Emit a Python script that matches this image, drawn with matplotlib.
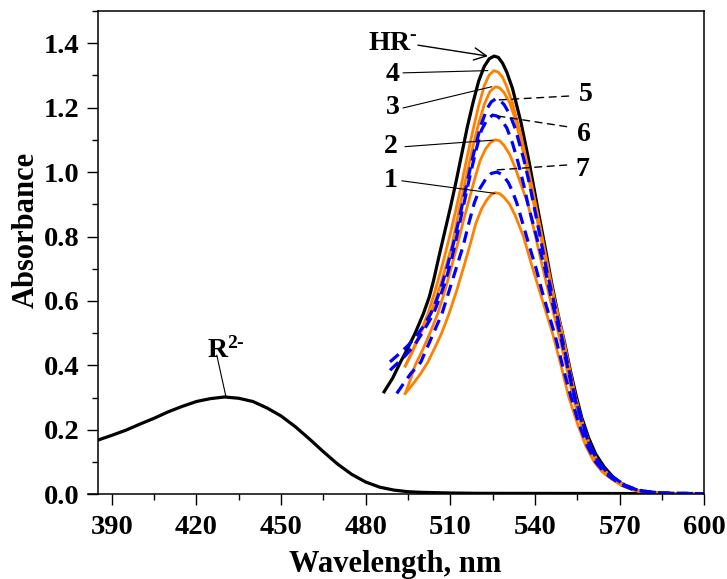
import matplotlib
matplotlib.use('Agg')
import matplotlib.pyplot as plt
from matplotlib.ticker import MultipleLocator

plt.rcParams['font.family'] = 'Liberation Serif'
plt.rcParams['font.weight'] = 'bold'
plt.rcParams['mathtext.fontset'] = 'custom'
plt.rcParams['mathtext.rm'] = 'Liberation Serif:bold'
plt.rcParams['mathtext.bf'] = 'Liberation Serif:bold'
plt.rcParams['mathtext.it'] = 'Liberation Serif:bold'

# R2- spectrum
r2_wl = [385, 390, 395, 400, 405, 410, 415, 420, 425, 430, 435, 440, 445, 450,
         455, 460, 465, 470, 475, 480, 485, 490, 495, 500, 510, 520, 600]
r2_abs = [0.168, 0.183, 0.199, 0.218, 0.236, 0.256, 0.273, 0.288, 0.297, 0.302,
          0.298, 0.288, 0.268, 0.243, 0.21, 0.172, 0.132, 0.094, 0.062, 0.038,
          0.022, 0.013, 0.008, 0.006, 0.004, 0.003, 0.002]

# HR- spectrum
hr_wl = [486.5, 489.5, 492.3, 495, 497.5, 500.4, 502.5, 504, 506, 508, 510, 512,
         514, 516, 518, 520, 522, 523.8, 525.5, 527, 528.5, 530, 532, 535, 538,
         541, 543.5, 545.8, 548, 550.5, 552.5, 554.6, 556.5, 559, 561.5, 564.5,
         568, 572, 576.3, 580, 585, 590, 600]
hr_abs = [0.318, 0.36, 0.41, 0.455, 0.5, 0.56, 0.612, 0.662, 0.74, 0.815, 0.89,
          0.97, 1.055, 1.14, 1.215, 1.282, 1.328, 1.352, 1.36, 1.356, 1.338, 1.31,
          1.26, 1.155, 1.027, 0.885, 0.77, 0.66, 0.565, 0.47, 0.385, 0.305, 0.24,
          0.175, 0.125, 0.085, 0.05, 0.025, 0.012, 0.006, 0.003, 0.002, 0.001]

# orange solid curves 1-4
wl_1 = [494, 496.9, 499.5, 502, 504.5, 506.9, 509.5, 512.3, 514.7, 517, 519, 521,
        523, 524.7, 526, 527.5, 529, 531, 533, 535.9, 539.2, 542.7, 546.2, 549.2,
        552, 555, 558, 561, 564, 567, 570.5, 574.5, 578.5, 583, 590, 600]
abs_1 = [0.313, 0.344, 0.375, 0.41, 0.455, 0.5, 0.56, 0.634, 0.705, 0.775, 0.84,
         0.885, 0.915, 0.932, 0.936, 0.933, 0.922, 0.9, 0.865, 0.8, 0.7, 0.6, 0.5,
         0.4, 0.3, 0.22, 0.15, 0.1, 0.068, 0.048, 0.028, 0.014, 0.007, 0.003,
         0.002, 0.001]

wl_2 = [494, 496, 497.5, 500, 502.5, 505.5, 508, 510.5, 512.5, 514.5, 516.5, 518.5,
        520.5, 522.5, 524.3, 526, 527.5, 529, 531, 533, 535, 537.5, 540.2, 542.8,
        545.5, 548.3, 551, 553.5, 556.2, 559, 562, 565, 567.5, 571, 575, 579, 584,
        590, 600]
abs_2 = [0.313, 0.36, 0.4, 0.445, 0.495, 0.56, 0.63, 0.71, 0.775, 0.845, 0.91,
         0.975, 1.035, 1.072, 1.093, 1.1, 1.097, 1.083, 1.055, 1.013, 0.962, 0.9,
         0.8, 0.7, 0.6, 0.5, 0.4, 0.3, 0.22, 0.15, 0.1, 0.068, 0.05, 0.028, 0.014,
         0.007, 0.003, 0.002, 0.001]

wl_3 = [494, 496, 498, 500, 503, 505, 507, 509, 510.5, 512, 514, 516, 518, 520, 522,
        524, 526, 527.5, 529, 531, 533, 536, 538, 539.6, 542, 544.3, 546.8, 549.3,
        551.7, 554.2, 556.6, 559.3, 562, 565, 568, 572, 576, 580, 585, 590, 600]
abs_3 = [0.398, 0.432, 0.47, 0.51, 0.56, 0.61, 0.665, 0.725, 0.77, 0.835, 0.92,
         1.0, 1.08, 1.15, 1.21, 1.25, 1.265, 1.261, 1.247, 1.215, 1.165, 1.055,
         0.97, 0.9, 0.8, 0.7, 0.6, 0.5, 0.4, 0.3, 0.225, 0.15, 0.105, 0.07, 0.05,
         0.024, 0.011, 0.005, 0.003, 0.002, 0.001]

wl_4 = [494, 496, 498, 500, 502, 504, 506, 508, 510, 512, 514, 516, 518, 520, 522,
        523.8, 525.5, 527, 528.5, 530, 532, 535, 538, 540.2, 542.5, 544.7, 547,
        549.7, 552, 554.4, 556.7, 559.5, 562, 565, 568, 572, 576, 580, 585, 590, 600]
abs_4 = [0.398, 0.435, 0.475, 0.515, 0.56, 0.615, 0.675, 0.74, 0.81, 0.885, 0.965,
         1.05, 1.13, 1.205, 1.268, 1.302, 1.315, 1.31, 1.294, 1.265, 1.215, 1.115,
         0.995, 0.9, 0.8, 0.7, 0.6, 0.5, 0.4, 0.3, 0.225, 0.15, 0.105, 0.07, 0.05,
         0.024, 0.011, 0.005, 0.003, 0.002, 0.001]

# blue dashed curves 5-7
wl_5 = [488.6, 492, 495, 498, 500.5, 503, 505, 507, 509, 511, 513, 515, 517, 519,
        521, 523, 524.5, 526, 527.5, 529, 531, 533, 536, 538, 539.5, 541.8, 544,
        546.6, 549.2, 551.7, 554.2, 556.8, 559.5, 562.5, 565.5, 568.5, 572, 576,
        580, 585, 590, 600]
abs_5 = [0.411, 0.437, 0.462, 0.492, 0.522, 0.56, 0.6, 0.65, 0.71, 0.775, 0.85,
         0.93, 1.01, 1.085, 1.15, 1.197, 1.218, 1.227, 1.223, 1.21, 1.18, 1.135,
         1.04, 0.965, 0.9, 0.8, 0.7, 0.6, 0.5, 0.4, 0.3, 0.225, 0.15, 0.1, 0.068,
         0.048, 0.028, 0.014, 0.008, 0.004, 0.003, 0.002]

wl_6 = [488.6, 491, 494, 497, 500, 502, 504, 506, 508, 510, 511.5, 513, 515, 517,
        519, 521, 523, 525, 526.5, 528, 530, 532, 534, 536, 537.5, 540.5, 543.5,
        546, 548.8, 551.4, 554, 556.6, 559.4, 562.5, 565.5, 568.5, 572, 576, 580,
        585, 590, 600]
abs_6 = [0.385, 0.405, 0.43, 0.46, 0.5, 0.53, 0.56, 0.605, 0.655, 0.715, 0.77,
         0.83, 0.91, 0.99, 1.065, 1.13, 1.163, 1.177, 1.174, 1.163, 1.137, 1.09,
         1.03, 0.96, 0.9, 0.8, 0.7, 0.6, 0.5, 0.4, 0.3, 0.225, 0.15, 0.1, 0.068,
         0.048, 0.028, 0.014, 0.008, 0.004, 0.003, 0.002]

wl_7 = [491, 493.5, 496, 499.5, 502, 504.5, 507, 509.5, 512, 514.5, 516.5, 518.5,
        520.5, 522.5, 524.5, 526.5, 528.5, 530.5, 532, 533.5, 535.5, 538, 540.4,
        542.5, 545, 547.2, 550, 552.8, 555.5, 558.5, 561.5, 564.5, 567.5, 571,
        575, 579, 584, 590, 600]
abs_7 = [0.313, 0.345, 0.375, 0.41, 0.46, 0.51, 0.56, 0.63, 0.7, 0.77, 0.84, 0.905,
         0.95, 0.978, 0.996, 1.0, 0.992, 0.968, 0.94, 0.905, 0.845, 0.77, 0.7, 0.63,
         0.555, 0.49, 0.39, 0.3, 0.22, 0.15, 0.1, 0.068, 0.048, 0.028, 0.014,
         0.008, 0.004, 0.003, 0.002]

orange_curves = [(wl_1, abs_1), (wl_2, abs_2), (wl_3, abs_3), (wl_4, abs_4)]
blue_curves = [(wl_5, abs_5), (wl_6, abs_6), (wl_7, abs_7)]

fig = plt.figure(figsize=(7.27, 5.79), dpi=100)
ax = fig.add_axes([0.1344, 0.1463, 0.8344, 0.8347])

ax.plot(r2_wl, r2_abs, color='black', lw=2.3)
ax.plot(hr_wl, hr_abs, color='black', lw=2.3)
for w, a in orange_curves:
    ax.plot(w, a, color='#FF8000', lw=2.0)
for w, a in blue_curves:
    ax.plot(w, a, color='#0000FF', lw=2.3, dashes=(3.6, 2.2))

ax.set_xlim(385, 600)
ax.set_ylim(0, 1.5)
ax.xaxis.set_major_locator(MultipleLocator(30))
ax.xaxis.set_minor_locator(MultipleLocator(15))
ax.yaxis.set_major_locator(MultipleLocator(0.2))
ax.yaxis.set_minor_locator(MultipleLocator(0.1))
ax.tick_params(which='both', direction='out', width=1.0, labelsize=20.5)
ax.tick_params(which='major', length=8)
ax.tick_params(axis='x', which='major', pad=7)
ax.tick_params(axis='y', which='major', pad=5)
ax.tick_params(which='minor', length=4)
ax.tick_params(top=False, right=False)
ax.yaxis.set_major_formatter(plt.FuncFormatter(lambda v, p: f'{v:.1f}'))
for s in ax.spines.values():
    s.set_linewidth(1.1)
ax.spines['bottom'].set_bounds(381.5, 600)

ax.set_xlabel('Wavelength, nm', fontsize=22, fontweight='bold')
ax.set_ylabel('Absorbance', fontsize=22, fontweight='bold')
ax.xaxis.set_label_coords(0.49, -0.115)
ax.yaxis.set_label_coords(-0.094, 0.547)

lab = dict(fontsize=20, fontweight='bold', ha='center', va='center')
thin = dict(arrowstyle='-', color='black', lw=0.8, shrinkA=0, shrinkB=0)
dash = dict(arrowstyle='-', color='black', lw=1.0, ls=(0, (5, 4)),
            shrinkA=0, shrinkB=0)

ax.text(489.7, 1.398, r'HR$^{\text{-}}$', **lab)
ax.annotate('', xy=(523.3, 1.36), xytext=(498.5, 1.394),
            arrowprops=dict(arrowstyle='->', color='black', lw=1.0,
                            shrinkA=0, shrinkB=0, mutation_scale=22))

for txt, tx, ty, x0, y0, x1, y1 in [
        ('4', 489.5, 1.304, 493.2, 1.308, 523.3, 1.315),
        ('3', 489.5, 1.199, 493.2, 1.199, 524.7, 1.265),
        ('2', 489.0, 1.081, 493.9, 1.079, 525.1, 1.099),
        ('1', 488.8, 0.975, 492.8, 0.973, 525.8, 0.934)]:
    ax.text(tx, ty, txt, **lab)
    ax.annotate('', xy=(x1, y1), xytext=(x0, y0), arrowprops=thin)

for txt, tx, ty, x0, y0, x1, y1 in [
        ('5', 557.9, 1.241, 551.9, 1.236, 527.1, 1.224),
        ('6', 557.5, 1.118, 551.2, 1.141, 524.7, 1.177),
        ('7', 556.8, 1.009, 551.2, 1.022, 525.1, 1.006)]:
    ax.text(tx, ty, txt, **lab)
    ax.annotate('', xy=(x1, y1), xytext=(x0, y0), arrowprops=dash)

ax.text(430.5, 0.447, r'R$^{\text{2-}}$', **lab)
ax.annotate('', xy=(430.4, 0.305), xytext=(427.2, 0.432), arrowprops=thin)

fig.savefig('out.png', dpi=100)
